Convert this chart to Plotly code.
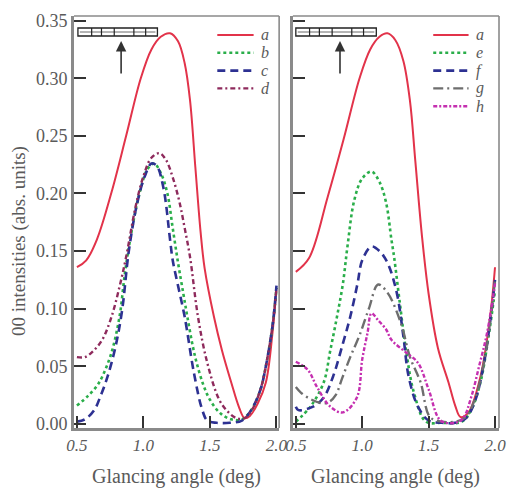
import plotly.graph_objects as go

# ---------------- data ----------------
a_left_x = [0.50, 0.57, 0.65, 0.76, 0.87, 0.98, 1.06, 1.13, 1.20, 1.26, 1.31, 1.35, 1.39, 1.43, 1.46, 1.53, 1.59, 1.66, 1.72, 1.76, 1.80, 1.86, 1.92, 1.97, 2.00]
a_left_y = [0.136, 0.142, 0.160, 0.201, 0.250, 0.300, 0.325, 0.336, 0.339, 0.332, 0.313, 0.281, 0.223, 0.166, 0.135, 0.093, 0.064, 0.036, 0.014, 0.005, 0.007, 0.018, 0.036, 0.079, 0.118]

b_x = [0.50, 0.58, 0.65, 0.69, 0.76, 0.82, 0.86, 0.90, 0.97, 1.03, 1.08, 1.13, 1.18, 1.22, 1.26, 1.30, 1.33, 1.37, 1.40, 1.45, 1.50, 1.58, 1.66, 1.74, 1.81, 1.88, 1.92, 1.97, 2.00]
b_y = [0.016, 0.024, 0.033, 0.041, 0.062, 0.093, 0.130, 0.160, 0.200, 0.221, 0.226, 0.218, 0.200, 0.170, 0.140, 0.113, 0.093, 0.068, 0.053, 0.034, 0.021, 0.009, 0.004, 0.004, 0.012, 0.030, 0.050, 0.085, 0.118]

c_x = [0.50, 0.56, 0.63, 0.68, 0.73, 0.79, 0.84, 0.89, 0.95, 1.01, 1.06, 1.10, 1.15, 1.20, 1.22, 1.26, 1.31, 1.38, 1.44, 1.48, 1.55, 1.65, 1.74, 1.81, 1.88, 1.92, 1.97, 2.00]
c_y = [0.002, 0.004, 0.012, 0.025, 0.041, 0.067, 0.099, 0.150, 0.190, 0.215, 0.226, 0.224, 0.205, 0.160, 0.142, 0.120, 0.093, 0.044, 0.013, 0.003, 0.001, 0.001, 0.003, 0.012, 0.030, 0.050, 0.085, 0.120]

d_x = [0.50, 0.56, 0.62, 0.69, 0.76, 0.82, 0.87, 0.94, 1.00, 1.06, 1.12, 1.17, 1.22, 1.27, 1.31, 1.35, 1.41, 1.48, 1.57, 1.64, 1.70, 1.76, 1.82, 1.88, 1.92, 1.97, 2.00]
d_y = [0.058, 0.058, 0.063, 0.073, 0.093, 0.119, 0.145, 0.188, 0.215, 0.231, 0.235, 0.229, 0.214, 0.193, 0.170, 0.145, 0.093, 0.053, 0.021, 0.010, 0.005, 0.005, 0.013, 0.030, 0.050, 0.085, 0.118]

a_right_x = [0.50, 0.60, 0.74, 0.86, 0.98, 1.06, 1.13, 1.19, 1.25, 1.31, 1.36, 1.40, 1.45, 1.50, 1.57, 1.65, 1.70, 1.74, 1.80, 1.89, 1.96, 2.00]
a_right_y = [0.132, 0.144, 0.197, 0.247, 0.300, 0.325, 0.336, 0.339, 0.333, 0.315, 0.280, 0.228, 0.163, 0.113, 0.066, 0.036, 0.016, 0.006, 0.010, 0.041, 0.090, 0.136]

e_x = [0.50, 0.61, 0.71, 0.76, 0.81, 0.855, 0.89, 0.94, 1.00, 1.07, 1.13, 1.18, 1.22, 1.24, 1.28, 1.33, 1.39, 1.48, 1.60, 1.75, 1.82, 1.89, 1.95, 2.00]
e_y = [0.002, 0.015, 0.036, 0.064, 0.093, 0.122, 0.155, 0.194, 0.213, 0.219, 0.210, 0.192, 0.160, 0.145, 0.108, 0.064, 0.027, 0.002, 0.001, 0.002, 0.012, 0.036, 0.075, 0.116]

f_x = [0.50, 0.52, 0.63, 0.71, 0.78, 0.855, 0.91, 0.965, 1.00, 1.07, 1.13, 1.19, 1.26, 1.31, 1.35, 1.42, 1.50, 1.60, 1.70, 1.78, 1.85, 1.92, 1.97, 2.00]
f_y = [0.015, 0.012, 0.015, 0.023, 0.041, 0.070, 0.093, 0.122, 0.142, 0.154, 0.150, 0.140, 0.114, 0.076, 0.041, 0.015, 0.003, 0.001, 0.001, 0.005, 0.020, 0.055, 0.095, 0.125]

g_x = [0.50, 0.54, 0.62, 0.70, 0.75, 0.80, 0.85, 0.91, 0.98, 1.05, 1.12, 1.19, 1.29, 1.36, 1.44, 1.51, 1.60, 1.70, 1.78, 1.85, 1.92, 1.97, 2.00]
g_y = [0.032, 0.027, 0.021, 0.018, 0.019, 0.025, 0.040, 0.058, 0.077, 0.100, 0.121, 0.114, 0.088, 0.058, 0.036, 0.006, 0.002, 0.002, 0.006, 0.022, 0.055, 0.095, 0.125]

h_x = [0.50, 0.59, 0.66, 0.76, 0.855, 0.96, 1.00, 1.04, 1.07, 1.12, 1.18, 1.22, 1.33, 1.42, 1.50, 1.59, 1.70, 1.76, 1.82, 1.88, 1.94, 2.00]
h_y = [0.054, 0.047, 0.032, 0.015, 0.010, 0.023, 0.056, 0.079, 0.096, 0.090, 0.082, 0.073, 0.062, 0.053, 0.030, 0.003, 0.001, 0.005, 0.023, 0.050, 0.079, 0.122]

left_names = ["a", "b", "c", "d"]
right_names = ["a", "e", "f", "g", "h"]

x_tick_vals = [0.5, 1.0, 1.5, 2.0]
x_tick_text = ["0.5", "1.0", "1.5", "2.0"]
y_tick_vals = [0.00, 0.05, 0.10, 0.15, 0.20, 0.25, 0.30, 0.35]
y_tick_text = ["0.00", "0.05", "0.10", "0.15", "0.20", "0.25", "0.30", "0.35"]

# ---------------- styling ----------------
SERIF = "Liberation Serif"
TXT = "#5a5a5a"
AX = "#8a8a8a"

RED = "#e2334a"
GREEN = "#2aae4a"
BLUE = "#2d3192"
MAROON = "#8e2a5c"
GRAY = "#6e6e6e"
MAGENTA = "#c52fb0"

STY = {
    "a": (RED, "solid", 2.0),
    "b": (GREEN, "3px,3px", 2.6),
    "c": (BLUE, "8px,5px", 2.6),
    "d": (MAROON, "5px,3px,2px,3px", 2.4),
    "e": (GREEN, "3px,3px", 2.6),
    "f": (BLUE, "8px,5px", 2.6),
    "g": (GRAY, "10px,4px,2px,4px", 2.4),
    "h": (MAGENTA, "4px,2px,2px,2px", 2.4),
}

fig = go.Figure()

def add(x, y, name, xa, ya):
    color, dash, width = STY[name]
    fig.add_trace(go.Scatter(
        x=x, y=y, name=name, mode="lines", line_shape="spline",
        line=dict(color=color, dash=dash, width=width),
        xaxis=xa, yaxis=ya, showlegend=False))

for (x, y), n in zip([(a_left_x, a_left_y), (b_x, b_y), (c_x, c_y), (d_x, d_y)], left_names):
    add(x, y, n, "x", "y")
for (x, y), n in zip([(a_right_x, a_right_y), (e_x, e_y), (f_x, f_y), (g_x, g_y), (h_x, h_y)], right_names):
    add(x, y, n, "x2", "y2")

W, H = 512, 491
ML, MR, MT, MB = 74, 5, 16, 63
PW = W - ML - MR
PH = H - MT - MB

def px_x(p):
    return (p - ML) / PW

def px_y(p):
    return (H - MB - p) / PH

xcommon = dict(range=[0.478, 2.02], tickvals=x_tick_vals, ticktext=x_tick_text,
               ticks="inside", ticklen=12, tickwidth=2, tickcolor="#333",
               showline=True, linewidth=3, linecolor=AX, showgrid=False, zeroline=False,
               tickfont=dict(family=SERIF, size=17, color=TXT, style="italic"))
ycommon = dict(range=[-0.0035, 0.354], tickvals=y_tick_vals, ticktext=y_tick_text,
               ticks="inside", ticklen=12, tickwidth=2, tickcolor="#333",
               showline=True, linewidth=3, linecolor=AX, showgrid=False, zeroline=False,
               tickfont=dict(family=SERIF, size=18, color=TXT))

left_dom = [px_x(74), px_x(283)]
right_dom = [px_x(297), px_x(507)]

fig.update_layout(
    width=W, height=H,
    margin=dict(l=ML, r=MR, t=MT, b=MB),
    paper_bgcolor="white", plot_bgcolor="white",
    font=dict(family=SERIF, color=TXT),
    xaxis=dict(domain=left_dom, anchor="y", **xcommon),
    yaxis=dict(domain=[0, 1], anchor="x", **ycommon),
    xaxis2=dict(domain=right_dom, anchor="y2", **{**xcommon, "range": [0.478, 2.03]}),
    yaxis2=dict(domain=[0, 1], anchor="x2", showticklabels=False,
                **{k: v for k, v in ycommon.items() if k != "tickfont"}),
    showlegend=False,
)

shapes = []
annotations = []

# top and right frame lines for both panels
for xd, yd in (("x domain", "y domain"), ("x2 domain", "y2 domain")):
    shapes.append(dict(type="line", xref=xd, yref=yd, x0=0, x1=1, y0=1, y1=1,
                       line=dict(color=AX, width=1.6)))
    shapes.append(dict(type="line", xref=xd, yref=yd, x0=1, x1=1, y0=0, y1=1,
                       line=dict(color=AX, width=1.6)))

# legends (drawn as keys + labels)
def legend(names, x0p, x1p, xtp):
    for i, n in enumerate(names):
        color, dash, width = STY[n]
        yp = 35 + i * 17.8
        shapes.append(dict(type="line", xref="paper", yref="paper",
                           x0=px_x(x0p), x1=px_x(x1p), y0=px_y(yp), y1=px_y(yp),
                           line=dict(color=color, dash=dash, width=width)))
        annotations.append(dict(x=px_x(xtp), y=px_y(yp), xref="paper", yref="paper",
                                text=n, showarrow=False, xanchor="left", yanchor="middle",
                                borderpad=0,
                                font=dict(family=SERIF, size=16, color=TXT, style="italic")))

legend(left_names, 220, 257, 264)
legend(right_names, 440, 476, 483)

# inset bars (ruler-like) with dividers
def inset(x0p, x1p, divs):
    yb, yt = px_y(36), px_y(28)
    shapes.append(dict(type="rect", xref="paper", yref="paper",
                       x0=px_x(x0p), x1=px_x(x1p), y0=yb, y1=yt,
                       line=dict(color="#222", width=1.3), fillcolor="white"))
    ym = (yb + yt) / 2
    shapes.append(dict(type="line", xref="paper", yref="paper",
                       x0=px_x(x0p + 2), x1=px_x(x1p - 2), y0=ym, y1=ym,
                       line=dict(color="#444", width=0.8)))
    for d in divs:
        shapes.append(dict(type="line", xref="paper", yref="paper",
                           x0=px_x(d), x1=px_x(d), y0=yb, y1=yt,
                           line=dict(color="#222", width=1.2)))

inset(78, 159, [92, 102, 115, 135, 147])
inset(300, 382, [314, 324, 337, 357, 369])

for ax_px in (122, 345):
    annotations.append(dict(x=px_x(ax_px), y=px_y(41), xref="paper", yref="paper",
                            ax=0, ay=34, axref="pixel", ayref="pixel",
                            text="", showarrow=True, arrowhead=2, arrowsize=1.3,
                            arrowwidth=1.6, arrowcolor="#333"))

annotations.append(dict(x=px_x(18), y=px_y(241), xref="paper", yref="paper",
                        xanchor="center", yanchor="middle",
                        text="00 intensities (abs. units)", textangle=-90, showarrow=False,
                        font=dict(family=SERIF, size=19, color=TXT)))
for cx in (178, 402):
    annotations.append(dict(x=px_x(cx), y=px_y(476), xref="paper", yref="paper",
                            xanchor="center", yanchor="middle",
                            text="Glancing angle (deg)", showarrow=False,
                            font=dict(family=SERIF, size=20, color=TXT)))

fig.update_layout(shapes=shapes, annotations=annotations)

fig.write_html("out.html", config={"displayModeBar": False},
               post_script="document.body.style.margin='0';")
